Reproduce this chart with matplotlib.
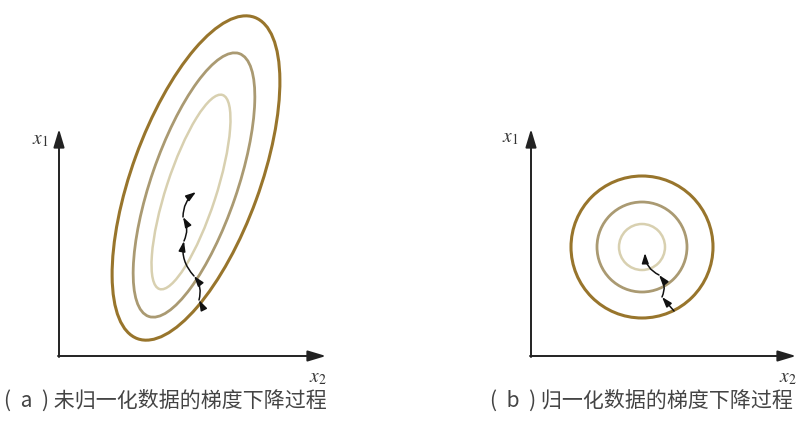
import matplotlib
matplotlib.use("Agg")
import matplotlib.pyplot as plt
from matplotlib.patches import Ellipse, Circle

plt.rcParams['font.family'] = ['Noto Sans CJK SC', 'DejaVu Sans']
plt.rcParams['mathtext.fontset'] = 'stix'

# panel (a): contour ellipses (center x, center y, semi-major, semi-minor, angle)
ell_cx = [196, 194, 191]
ell_cy = [178, 185, 192]
ell_a = [171, 139, 102]
ell_b = [64, 43, 25]
ell_angle = [-70.0, -71.0, -72.0]
ell_colors = ['#98752c', '#aa9a72', '#d8d0b0']
ell_lw = [2.2, 2.0, 1.8]

# panel (a): descent path, arrowhead points and curvature of each step
path_a_x = [203, 199, 194, 184, 183, 196]
path_a_y = [308, 300, 276, 241, 217, 192]
path_a_rad = [0.0, 0.25, -0.25, 0.25, -0.25]

# panel (b): concentric circles
circ_cx = 642
circ_cy = 247
circ_r = [71, 45, 23]
circ_colors = ['#98752c', '#aa9a72', '#d8d0b0']
circ_lw = [2.2, 2.0, 1.8]

path_b_x = [674, 662, 659, 645]
path_b_y = [311, 297, 275, 253]
path_b_rad = [0.0, 0.3, -0.3]

# axes frames: origin, x tip, y tip
axes_origin = [(59, 356), (531, 356)]
axes_xtip = [326, 796]
axes_ytip = [129, 129]
x1_pos = [(40, 139), (510, 137)]
x2_pos = [(318, 377), (788, 377)]

captions = ['(  a  ) 未归一化数据的梯度下降过程', '(  b  ) 归一化数据的梯度下降过程']
caption_pos = [(4, 401), (490, 401)]

fig = plt.figure(figsize=(8.06, 4.23), dpi=100)
ax = fig.add_axes([0, 0, 1, 1])
ax.set_xlim(0, 806)
ax.set_ylim(423, 0)
ax.axis('off')

for cx, cy, a, b, ang, c, lw in zip(ell_cx, ell_cy, ell_a, ell_b, ell_angle, ell_colors, ell_lw):
    ax.add_patch(Ellipse((cx, cy), 2 * a, 2 * b, angle=ang, fill=False, ec=c, lw=lw))

for r, c, lw in zip(circ_r, circ_colors, circ_lw):
    ax.add_patch(Circle((circ_cx, circ_cy), r, fill=False, ec=c, lw=lw))


def draw_path(xs, ys, rads):
    for i in range(len(xs) - 1):
        ax.annotate('', xy=(xs[i + 1], ys[i + 1]), xytext=(xs[i], ys[i]),
                    arrowprops=dict(arrowstyle='-|>,head_length=0.6,head_width=0.2',
                                    color='#111111', lw=1.1, shrinkA=0, shrinkB=0,
                                    connectionstyle='arc3,rad=%s' % rads[i]))


draw_path(path_a_x, path_a_y, path_a_rad)
draw_path(path_b_x, path_b_y, path_b_rad)

for (ox, oy), xt, yt in zip(axes_origin, axes_xtip, axes_ytip):
    ax.annotate('', xy=(xt, oy), xytext=(ox - 1, oy),
                arrowprops=dict(arrowstyle='-|>,head_length=1.1,head_width=0.33',
                                color='#222222', lw=1.4, shrinkA=0, shrinkB=0))
    ax.annotate('', xy=(ox, yt), xytext=(ox, oy + 1),
                arrowprops=dict(arrowstyle='-|>,head_length=1.1,head_width=0.33',
                                color='#222222', lw=1.4, shrinkA=0, shrinkB=0))

for (x, y) in x1_pos:
    ax.text(x, y, '$x_1$', fontsize=14, color='#333333', ha='center', va='center')
for (x, y) in x2_pos:
    ax.text(x, y, '$x_2$', fontsize=14, color='#333333', ha='center', va='center')

for txt, (x, y) in zip(captions, caption_pos):
    ax.text(x, y, txt, fontsize=15.1, color='#444444', ha='left', va='center')

fig.savefig('out.png', dpi=100, facecolor='white')
